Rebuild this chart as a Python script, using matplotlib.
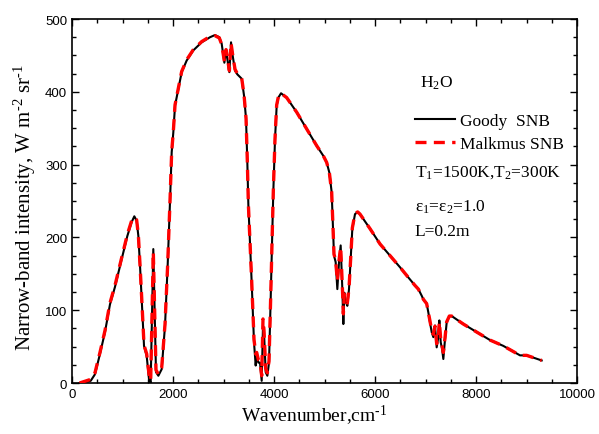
import matplotlib
matplotlib.use("Agg")
import matplotlib.pyplot as plt
from matplotlib.ticker import MultipleLocator

wavenumber = [150, 370, 455, 554, 653, 752, 851, 983, 1096, 1181, 1234, 1280, 1314, 1347, 1380,
              1426, 1479, 1525, 1558, 1610, 1663, 1710, 1776, 1842, 1894, 1941, 1974, 2006, 2040,
              2106, 2172, 2271, 2403, 2568, 2733, 2832, 2917, 2964, 3017, 3050, 3076, 3116, 3149,
              3181, 3228, 3274, 3360, 3406, 3446, 3472, 3492, 3558, 3604, 3637, 3657, 3690, 3723,
              3756, 3782, 3802, 3835, 3868, 3901, 3934, 3966, 3986, 4020, 4053, 4086, 4139, 4251,
              4449, 4647, 4845, 4977, 5043, 5096, 5142, 5188, 5221, 5254, 5287, 5320, 5353, 5373,
              5393, 5426, 5452, 5485, 5518, 5551, 5604, 5657, 5703, 5901, 6099, 6297, 6495, 6660,
              6792, 6858, 6924, 6957, 7023, 7056, 7089, 7122, 7155, 7188, 7221, 7254, 7274, 7301,
              7327, 7353, 7386, 7419, 7472, 7518, 7749, 8013, 8277, 8541, 8871, 9003, 9300]

goody = [0, 3, 12, 40, 70, 108, 132, 170, 202, 221, 229, 223, 202, 161, 115,
         51, 37, 5, 0, 184, 15, 10, 19, 79, 161, 250, 317, 344, 381,
         404, 427, 443, 457, 468, 475, 478, 475, 466, 440, 457, 445, 427, 468,
         450, 429, 424, 418, 395, 363, 303, 245, 138, 56, 24, 38, 28, 28,
         3, 79, 70, 15, 10, 28, 115, 207, 262, 335, 381, 392, 398, 392,
         372, 349, 326, 312, 303, 289, 262, 175, 166, 129, 166, 189, 129, 81,
         124, 111, 106, 129, 170, 212, 232, 235, 232, 212, 191, 175, 159, 145,
         134, 129, 120, 115, 109, 97, 83, 70, 63, 79, 49, 63, 86, 56,
         47, 33, 60, 83, 92, 92, 81, 70, 59, 51, 38, 38, 31]

malkmus = [0, 5, 14, 42, 72, 110, 134, 172, 204, 223, 228, 224, 203, 162, 117,
           52, 40, 12, 3, 180, 18, 12, 21, 81, 162, 251, 318, 345, 382,
           405, 428, 444, 458, 469, 476, 477, 474, 465, 442, 458, 447, 429, 467,
           451, 431, 425, 419, 396, 364, 304, 246, 140, 60, 40, 42, 32, 30,
           10, 88, 72, 20, 14, 30, 117, 208, 263, 336, 382, 393, 398, 392,
           372, 349, 326, 312, 303, 289, 262, 177, 168, 140, 168, 187, 133, 95,
           122, 113, 110, 130, 171, 213, 233, 235, 232, 212, 191, 175, 159, 145,
           134, 129, 120, 115, 109, 97, 85, 72, 67, 78, 54, 65, 84, 60,
           52, 42, 62, 84, 92, 92, 81, 70, 59, 51, 38, 38, 31]

x_ticks = [0, 2000, 4000, 6000, 8000, 10000]
y_ticks = [0, 100, 200, 300, 400, 500]

serif = "Liberation Serif"
plt.rcParams["mathtext.fontset"] = "custom"
plt.rcParams["mathtext.rm"] = serif
plt.rcParams["mathtext.it"] = serif
plt.rcParams["mathtext.default"] = "regular"

fig = plt.figure(figsize=(5.99, 4.35), dpi=100)
ax = fig.add_axes([0.1202, 0.1172, 0.8431, 0.8368])

ax.plot(wavenumber, goody, color="black", lw=1.5, label="Goody  SNB", zorder=2)
ax.plot(wavenumber, malkmus, color="red", lw=2.4, dashes=(3.3, 2.2), label="Malkmus SNB", zorder=3)

ax.set_xlim(0, 10000)
ax.set_ylim(0, 500)
ax.set_xticks(x_ticks)
ax.set_yticks(y_ticks)
ax.xaxis.set_minor_locator(MultipleLocator(500))
ax.yaxis.set_minor_locator(MultipleLocator(25))
ax.tick_params(which="both", direction="in", top=True, right=True, width=1.0)
ax.tick_params(which="major", length=5)
ax.tick_params(which="minor", length=3)
for lbl in ax.get_xticklabels() + ax.get_yticklabels():
    lbl.set_fontfamily("Liberation Sans")
    lbl.set_fontsize(9.5)
for sp in ax.spines.values():
    sp.set_linewidth(1.2)

ax.set_xlabel(r"Wavenumber,cm$^{\text{-}1}$", fontfamily=serif, fontsize=14, labelpad=1)
ax.xaxis.set_label_coords(0.48, -0.055, transform=ax.transAxes)
ax.xaxis.label.set_va("top")
ax.set_ylabel(r"Narrow-band intensity, W m$^{\text{-}2}$ sr$^{\text{-}1}$", fontfamily=serif,
              fontsize=15)
ax.yaxis.set_label_coords(-0.093, 0.485, transform=ax.transAxes)
ax.yaxis.label.set_va("center")

leg = ax.legend(loc="upper left", bbox_to_anchor=(0.679, 0.742), frameon=False,
                prop={"family": serif, "size": 12.5}, handlelength=2.3, handletextpad=0.3,
                labelspacing=0.37, borderaxespad=0, borderpad=0)

ax.text(0.689, 0.827, "H$_2$O", transform=ax.transAxes, fontfamily=serif, fontsize=12.5, va="center")
ax.text(0.679, 0.58, "T$_1$=1500K,T$_2$=300K", transform=ax.transAxes, fontfamily=serif, fontsize=12.5, va="center")
ax.text(0.679, 0.486, "ε$_1$=ε$_2$=1.0", transform=ax.transAxes, fontfamily=serif, fontsize=12.5, va="center")
ax.text(0.679, 0.4176, "L=0.2m", transform=ax.transAxes, fontfamily=serif, fontsize=12.5, va="center")

fig.savefig("out.png", dpi=100)
